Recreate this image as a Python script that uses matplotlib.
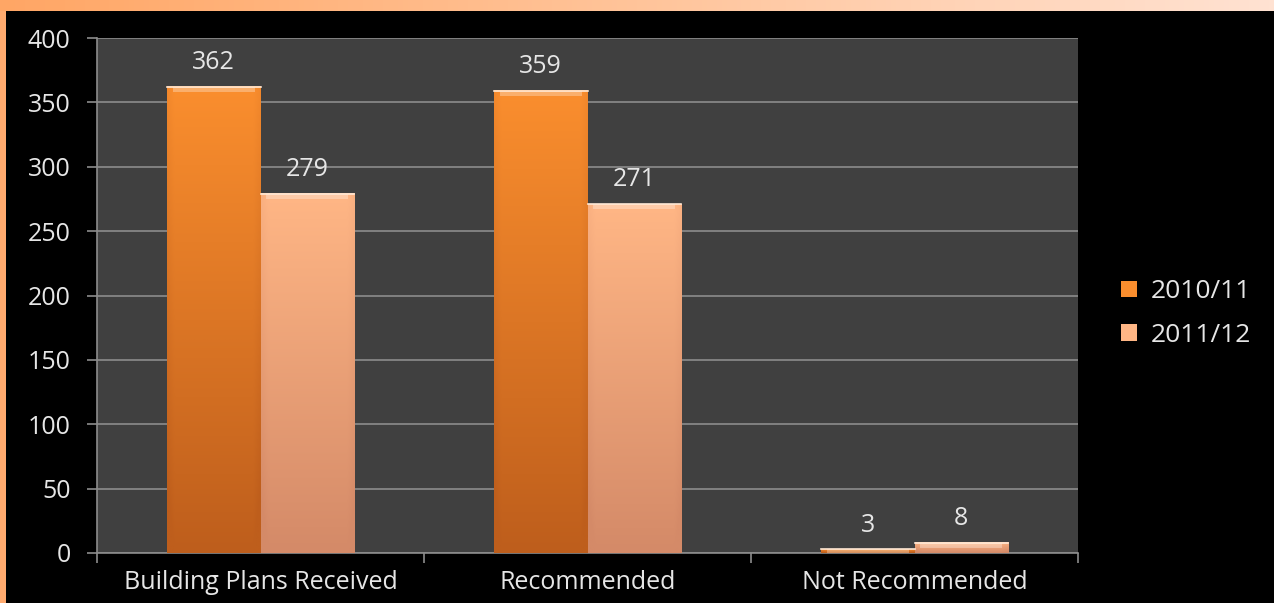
import numpy as np
import matplotlib.pyplot as plt
from matplotlib.colors import LinearSegmentedColormap

categories = ['Building Plans Received', 'Recommended', 'Not Recommended']
series_names = ['2010/11', '2011/12']
values_1011 = [362, 359, 3]
values_1112 = [279, 271, 8]

# top / bottom colours for the bar gradients
shades = [('#FA8E2E', '#BE5E1C'), ('#FFB685', '#D48A68')]

plt.rcParams['font.family'] = ['Open Sans', 'DejaVu Sans']

W, H = 1274, 603
fig = plt.figure(figsize=(W / 100, H / 100), dpi=100, facecolor='black')

# orange frame pieces: thin strip on the left, gradient band on top
band = fig.add_axes([0, 1 - 11 / H, 1, 11 / H])
band.imshow(np.linspace(0, 1, 256).reshape(1, -1), aspect='auto',
            cmap=LinearSegmentedColormap.from_list('band', ['#FFA665', '#FFC49A', '#FFE2D2']),
            extent=[0, 1, 0, 1])
band.axis('off')
strip = fig.add_axes([0, 0, 6 / W, 1 - 11 / H])
strip.set_facecolor('#FFAA6E')
strip.set_xticks([])
strip.set_yticks([])
for s in strip.spines.values():
    s.set_visible(False)

ax = fig.add_axes([97 / W, 50 / H, (1078 - 97) / W, (553 - 38) / H])
ax.set_facecolor('#404040')

x = np.arange(len(categories))
w = 1 / 3.5
groups = []
for i, vals in enumerate([values_1011, values_1112]):
    bars = ax.bar(x - w / 2 + i * w, vals, width=w, color=shades[i][0],
                  edgecolor='none', label=series_names[i], zorder=2)
    groups.append(bars)

# gradient fill with darker side edges and a light top bevel
for i, bars in enumerate(groups):
    top, bot = shades[i]
    cmap = LinearSegmentedColormap.from_list('g%d' % i, [bot, top])
    for b in bars:
        bx, bw, bh = b.get_x(), b.get_width(), b.get_height()
        yy = np.linspace(0, 1, 200).reshape(-1, 1)
        xx = np.linspace(-1, 1, 60).reshape(1, -1)
        grad = yy * np.ones_like(xx)
        grad = grad - 0.12 * np.clip(np.abs(xx) - 0.85, 0, None) / 0.15
        ax.imshow(grad, origin='lower', aspect='auto', cmap=cmap, vmin=0, vmax=1,
                  extent=[bx, bx + bw, 0, bh], zorder=3, interpolation='bilinear')
        bev = min(bh, 4)
        ax.fill_between([bx + bw * 0.06, bx + bw * 0.94], bh - bev, bh,
                        color='white', alpha=0.3, lw=0, zorder=4)
        ax.plot([bx, bx + bw], [bh, bh], color='#FFE9D6', lw=1.2, zorder=4)
        ax.text(bx + bw / 2, bh + 9, str(int(bh)), ha='center', va='bottom',
                color='#E6E6E6', fontsize=18, zorder=5)

ax.set_xlim(-0.5, 2.5)
ax.set_ylim(0, 400)
ax.set_yticks(np.arange(0, 401, 50))
ax.yaxis.grid(True, color='#8C8C8C', lw=1.2, zorder=1)
ax.set_axisbelow(True)

ax.set_xticks(x)
ax.set_xticklabels(categories)
ax.set_xticks([-0.5, 0.5, 1.5, 2.5], minor=True)
ax.tick_params(axis='x', which='major', length=0, pad=12, labelsize=18, labelcolor='#E6E6E6')
ax.tick_params(axis='x', which='minor', length=7, width=1.2, color='#8C8C8C')
ax.tick_params(axis='y', length=7, width=1.2, color='#8C8C8C', pad=12,
               labelsize=18, labelcolor='#E6E6E6')

for side in ['top', 'right']:
    ax.spines[side].set_visible(False)
for side in ['left', 'bottom']:
    ax.spines[side].set_color('#8C8C8C')
    ax.spines[side].set_linewidth(1.2)

leg = ax.legend(loc='center left', bbox_to_anchor=(1.02, 0.465), frameon=False,
                fontsize=19, labelcolor='#E6E6E6', handlelength=0.6,
                handleheight=0.6, handletextpad=0.5, labelspacing=0.7)

fig.savefig('out.png', dpi=100, facecolor='black')
